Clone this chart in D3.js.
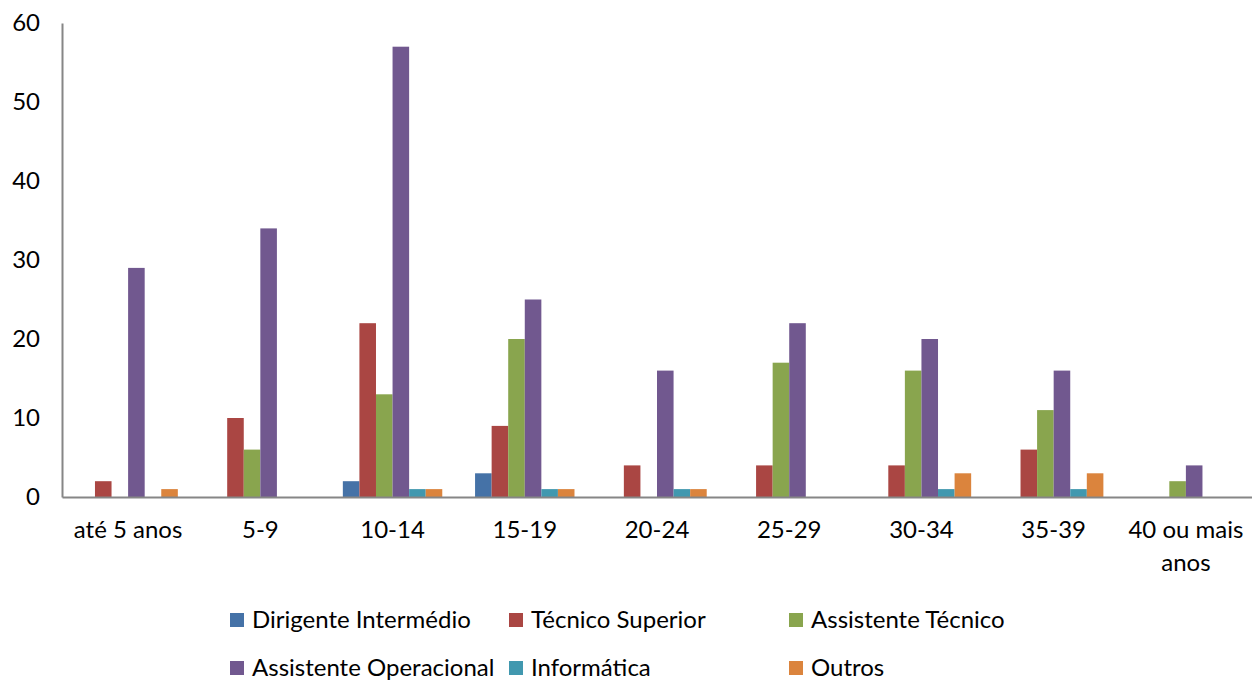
<!DOCTYPE html>
<html>
<head>
<meta charset="utf-8">
<script src="https://cdn.jsdelivr.net/npm/d3@7"></script>
<style>
  body { margin: 0; background: #fff; }
  svg text { font-family: Lato, "Open Sans", sans-serif; fill: #000; }
</style>
</head>
<body>
<svg id="chart" width="1252" height="682"></svg>
<script>
// categories (anos de serviço)
const categories = ["até 5 anos", "5-9", "10-14", "15-19", "20-24", "25-29", "30-34", "35-39", "40 ou mais anos"];
const seriesNames = ["Dirigente Intermédio", "Técnico Superior", "Assistente Técnico", "Assistente Operacional", "Informática", "Outros"];
const dirigente   = [0, 0, 2, 3, 0, 0, 0, 0, 0];
const tecSuperior = [2, 10, 22, 9, 4, 4, 4, 6, 0];
const assTecnico  = [0, 6, 13, 20, 0, 17, 16, 11, 2];
const assOperac   = [29, 34, 57, 25, 16, 22, 20, 16, 4];
const informatica = [0, 0, 1, 1, 1, 0, 1, 1, 0];
const outros      = [1, 0, 1, 1, 1, 0, 3, 3, 0];
const yTicks = [0, 10, 20, 30, 40, 50, 60];
const colors = ["#4572A7", "#AA4643", "#89A54E", "#71588F", "#4198AF", "#DB843D"];

const allSeries = [dirigente, tecSuperior, assTecnico, assOperac, informatica, outros];

let svg = d3.select("#chart");
let mLeft = 62, mRight = 1252, mTop = 23, mBottom = 497;

let x0 = d3.scaleBand().domain(categories).range([mLeft, mRight]).padding(0);
let x1 = d3.scaleBand().domain(seriesNames)
    .range([x0.bandwidth() * 0.124, x0.bandwidth() * 0.876]);
let y = d3.scaleLinear().domain([0, 60]).range([mBottom, mTop]);

// bars
let groups = svg.selectAll(".grp")
  .data(categories)
  .enter().append("g")
    .attr("class", "grp")
    .attr("transform", d => "translate(" + x0(d) + ",0)");

groups.selectAll("rect")
  .data((c, i) => seriesNames.map((s, j) => ({ s: s, v: allSeries[j][i], col: colors[j] })))
  .enter().append("rect")
    .attr("x", d => x1(d.s))
    .attr("y", d => y(d.v))
    .attr("width", x1.bandwidth())
    .attr("height", d => mBottom - y(d.v))
    .attr("fill", d => d.col);

// y axis
let yAxis = svg.append("g")
    .attr("transform", "translate(" + mLeft + ",0)")
    .call(d3.axisLeft(y).tickValues(yTicks).tickSize(0).tickPadding(22));
yAxis.select(".domain").attr("stroke", "#868686").attr("stroke-width", 2);
yAxis.selectAll("text").style("font-size", "24px").attr("font-family", null);

// x axis
let xAxis = svg.append("g")
    .attr("transform", "translate(0," + mBottom + ")")
    .call(d3.axisBottom(x0).tickSize(0).tickPadding(0));
xAxis.select(".domain").attr("stroke", "#868686").attr("stroke-width", 2);
xAxis.selectAll("text").remove();
xAxis.selectAll(".tick").each(function(d) {
  let t = d3.select(this).append("text")
    .attr("text-anchor", "middle")
    .style("font-size", "24px");
  let lines = d === "40 ou mais anos" ? ["40 ou mais", "anos"] : [d];
  lines.forEach((ln, k) => {
    t.append("tspan").attr("x", 0).attr("y", 41 + k * 33).text(ln);
  });
});

// legend
let legendPos = [[230, 620], [509, 620], [789, 620], [230, 668], [509, 668], [789, 668]];
let legend = svg.selectAll(".leg")
  .data(seriesNames)
  .enter().append("g")
    .attr("class", "leg")
    .attr("transform", (d, i) => "translate(" + legendPos[i][0] + "," + legendPos[i][1] + ")");
legend.append("rect")
    .attr("x", 0).attr("y", -7)
    .attr("width", 14).attr("height", 14)
    .attr("fill", (d, i) => colors[i]);
legend.append("text")
    .attr("x", 22).attr("dy", "0.35em")
    .style("font-size", "24px")
    .text(d => d);
</script>
</body>
</html>
